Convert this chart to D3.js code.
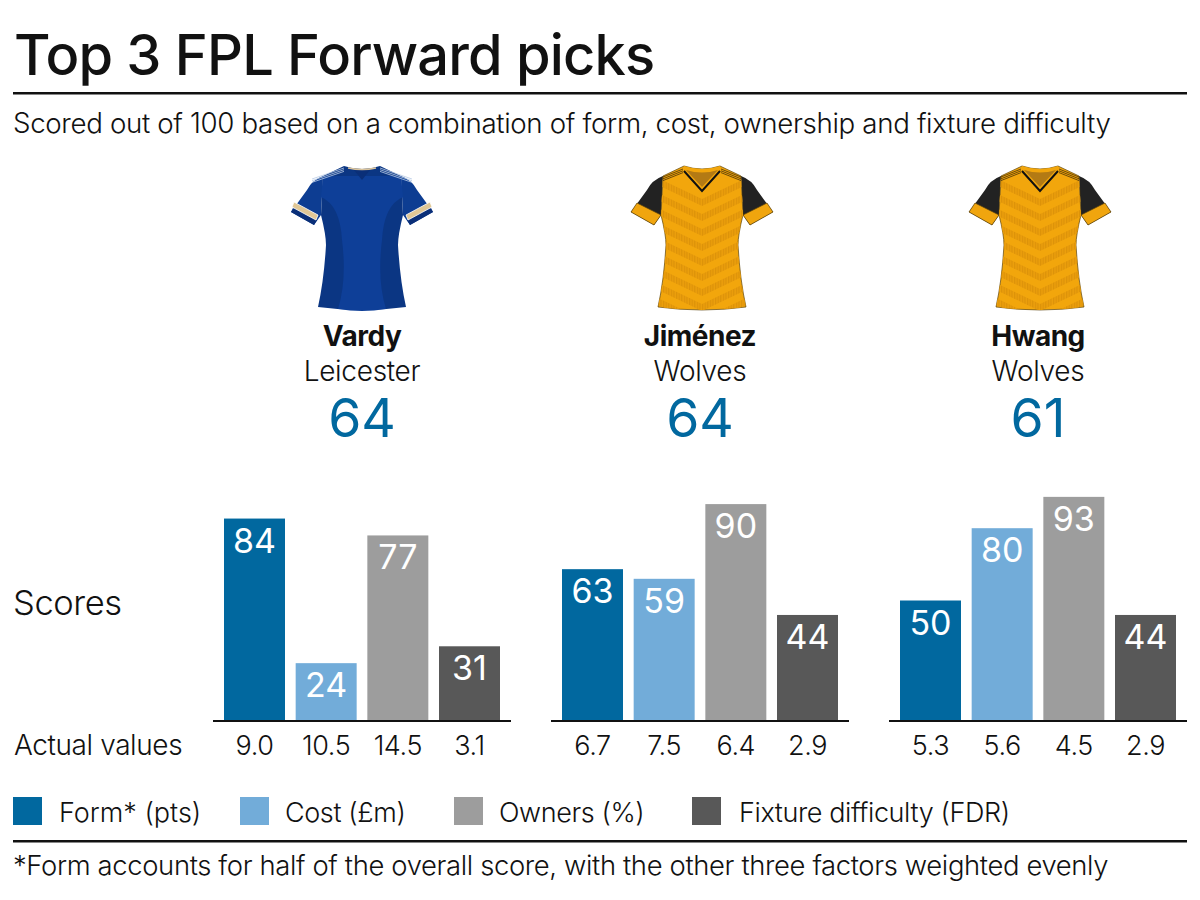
<!DOCTYPE html>
<html>
<head>
<meta charset="utf-8">
<script src="https://cdn.jsdelivr.net/npm/d3@7"></script>
<style>
  html, body { margin: 0; padding: 0; background: #fff; }
  text { font-family: Inter, "Liberation Sans", sans-serif; font-weight: 300; fill: #111; }
</style>
</head>
<body>
<div id="chart"></div>
<script>
const width = 1200, height = 900;

const colors = { form: '#01689f', cost: '#72acd9', owners: '#9d9d9d', fixture: '#585858' };
const factors = ['form', 'cost', 'owners', 'fixture'];

const players = [
  { name: 'Vardy', club: 'Leicester', total: 64, kit: 'leicester', cx: 362, kitX: 362, left: 224,
    scores: { form: 84, cost: 24, owners: 77, fixture: 31 },
    actual: { form: '9.0', cost: '10.5', owners: '14.5', fixture: '3.1' } },
  { name: 'Jiménez', club: 'Wolves', total: 64, kit: 'wolves', cx: 700, kitX: 702, left: 562,
    scores: { form: 63, cost: 59, owners: 90, fixture: 44 },
    actual: { form: '6.7', cost: '7.5', owners: '6.4', fixture: '2.9' } },
  { name: 'Hwang', club: 'Wolves', total: 61, kit: 'wolves', cx: 1038, kitX: 1040, left: 900,
    scores: { form: 50, cost: 80, owners: 93, fixture: 44 },
    actual: { form: '5.3', cost: '5.6', owners: '4.5', fixture: '2.9' } }
];

const legend = [
  { key: 'form', label: 'Form* (pts)', x: 13, tx: 59, spacing: 0 },
  { key: 'cost', label: 'Cost (£m)', x: 240, tx: 285, spacing: -0.4 },
  { key: 'owners', label: 'Owners (%)', x: 454, tx: 499, spacing: -0.4 },
  { key: 'fixture', label: 'Fixture difficulty (FDR)', x: 692, tx: 739, spacing: -0.4 }
];

const svg = d3.select('#chart').append('svg')
  .attr('width', width).attr('height', height)
  .style('display', 'block');

// Header
svg.append('text').attr('x', 14).attr('y', 75)
  .style('font-size', '56px').style('font-weight', 500).style('letter-spacing', '-0.8px')
  .text('Top 3 FPL Forward picks');
svg.append('rect').attr('x', 13).attr('y', 92).attr('width', 1174).attr('height', 2.5).attr('fill', '#111');
svg.append('text').attr('x', 13).attr('y', 133).style('font-size', '27.7px').style('letter-spacing', '-0.35px')
  .text('Scored out of 100 based on a combination of form, cost, ownership and fixture difficulty');

// Shirt outlines, relative to the shirt centre and y=155
const bodyPath = 'M-18,11 Q0,17 18,11 L39,21 L41,60 Q36,80 36,90 Q38,125 44,152 Q0,158 -44,152 Q-38,125 -36,90 Q-36,80 -41,60 L-39,21 Z';
const sleeveL = 'M-39,21 Q-50,25 -55,35 L-71,57 L-48,70 L-41,60 Z';
const sleeveR = 'M39,21 Q50,25 55,35 L71,57 L48,70 L41,60 Z';

const defs = svg.append('defs');
defs.append('clipPath').attr('id', 'shirt-body').append('path').attr('d', bodyPath);
const hatch = defs.append('pattern').attr('id', 'hatch').attr('patternUnits', 'userSpaceOnUse')
  .attr('width', 2.6).attr('height', 4);
hatch.append('rect').attr('width', 2.6).attr('height', 4).attr('fill', '#ec9f0c');
hatch.append('rect').attr('width', 1.2).attr('height', 4).attr('fill', '#dc9209');

function drawLeicester(g) {
  g.append('path').attr('d', sleeveL).attr('fill', '#0d3d92');
  g.append('path').attr('d', sleeveR).attr('fill', '#0d3d92');
  g.append('path').attr('d', bodyPath).attr('fill', '#0b3683');
  g.append('path').attr('d', 'M-39,21 L39,21 L41,42 Q22,50 20,85 Q15,125 24,154 Q0,158 -24,154 Q-15,125 -20,85 Q-22,50 -41,42 Z').attr('fill', '#0e3f98');
  g.append('path').attr('d', 'M-8,15 L0,25 L8,15 Z').attr('fill', '#0a2f78');
  g.append('path').attr('d', 'M-14,13 Q0,16 14,13').attr('fill', 'none').attr('stroke', '#d9c39c').attr('stroke-width', 1.5);
  [-1, 1].forEach(s => {
    d3.range(3).forEach(i => {
      g.append('path')
        .attr('d', `M${s * 18},${13 + i * 1.7} L${s * 50},${24 + i * 1.7}`)
        .attr('stroke', '#b9cbe6').attr('stroke-width', 0.8).attr('fill', 'none');
    });
  });
  g.append('path').attr('d', 'M-69,53 L-71,57 L-48,70 L-45,65 Z').attr('fill', '#0a2f78');
  g.append('path').attr('d', 'M69,53 L71,57 L48,70 L45,65 Z').attr('fill', '#0a2f78');
  g.append('path').attr('d', 'M-68,47 L-70,52 L-46,65 L-44,60 Z').attr('fill', '#e0c796').attr('stroke', '#fff').attr('stroke-width', 0.8);
  g.append('path').attr('d', 'M68,47 L70,52 L46,65 L44,60 Z').attr('fill', '#e0c796').attr('stroke', '#fff').attr('stroke-width', 0.8);
}

function drawWolves(g) {
  g.append('path').attr('d', sleeveL).attr('fill', '#222');
  g.append('path').attr('d', sleeveR).attr('fill', '#222');
  g.append('path').attr('d', 'M-65,48 L-71,57 L-48,70 L-41,60 Z').attr('fill', '#f0a50e').attr('stroke', '#5c4208').attr('stroke-width', 0.7);
  g.append('path').attr('d', 'M65,48 L71,57 L48,70 L41,60 Z').attr('fill', '#f0a50e').attr('stroke', '#5c4208').attr('stroke-width', 0.7);
  g.append('path').attr('d', bodyPath).attr('fill', '#f2a60c').attr('stroke', '#5c4208').attr('stroke-width', 0.7);
  const pattern = g.append('g').attr('clip-path', 'url(#shirt-body)');
  d3.range(9).forEach(i => {
    const y = 22 + i * 15;
    pattern.append('path')
      .attr('d', `M-46,${y} L0,${y + 22} L46,${y} L46,${y + 7} L0,${y + 29} L-46,${y + 7} Z`)
      .attr('fill', 'url(#hatch)');
  });
  g.append('path').attr('d', 'M-18,11 Q0,17 18,11 L19,15 L0,37 L-19,15 Z').attr('fill', '#f2a60c');
  g.append('path').attr('d', 'M-16,15 Q0,20 16,15 L0,32 Z').attr('fill', '#b37a14');
  g.append('path').attr('d', 'M-18,16 L0,36 L18,16').attr('fill', 'none').attr('stroke', '#111').attr('stroke-width', 2);
  [-1, 1].forEach(s => {
    d3.range(3).forEach(i => {
      g.append('path')
        .attr('d', `M${s * 19},${14 + i * 1.8} L${s * 39},${22 + i * 1.8}`)
        .attr('stroke', '#4a3208').attr('stroke-width', 0.8).attr('fill', 'none');
    });
  });
}

// Bar scales, shared by all three panels
const barWidth = 276;
const y = d3.scaleLinear().domain([0, 100]).range([721, 480]);
const x = d3.scaleBand().domain(factors).range([0, barWidth]).paddingInner(0.149).paddingOuter(0);

const panels = svg.selectAll('g.panel').data(players).join('g').attr('class', 'panel');

panels.each(function (p) {
  const g = d3.select(this);
  const shirt = g.append('g').attr('transform', `translate(${p.kitX},155)`);
  if (p.kit === 'leicester') drawLeicester(shirt); else drawWolves(shirt);

  g.append('text').attr('x', p.cx).attr('y', 346).attr('text-anchor', 'middle')
    .style('font-size', '28px').style('font-weight', 700).style('letter-spacing', '-0.5px').text(p.name);
  g.append('text').attr('x', p.cx).attr('y', 381).attr('text-anchor', 'middle')
    .style('font-size', '28px').style('letter-spacing', '-0.3px').text(p.club);
  g.append('text').attr('x', p.cx).attr('y', 437).attr('text-anchor', 'middle')
    .style('font-size', '53.5px').style('font-weight', 400).style('fill', colors.form).text(p.total);

  const bars = g.append('g').attr('transform', `translate(${p.left},0)`);
  bars.selectAll('rect').data(factors).join('rect')
    .attr('x', d => x(d)).attr('width', x.bandwidth())
    .attr('y', d => y(p.scores[d])).attr('height', d => y(0) - y(p.scores[d]))
    .attr('fill', d => colors[d]);
  bars.selectAll('text.score').data(factors).join('text').attr('class', 'score')
    .attr('x', d => x(d) + x.bandwidth() / 2).attr('y', d => y(p.scores[d]) + 34)
    .attr('text-anchor', 'middle')
    .style('font-size', '34px').style('font-weight', 400).style('fill', '#fff').text(d => p.scores[d]);
  bars.append('rect').attr('x', -11).attr('y', 720).attr('width', 298).attr('height', 2).attr('fill', '#111');
  bars.selectAll('text.actual').data(factors).join('text').attr('class', 'actual')
    .attr('x', d => x(d) + x.bandwidth() / 2).attr('y', 755)
    .attr('text-anchor', 'middle')
    .style('font-size', '27px').style('letter-spacing', '-0.4px').text(d => p.actual[d]);
});

svg.append('text').attr('x', 13).attr('y', 615).style('font-size', '34.5px').style('letter-spacing', '-0.4px').text('Scores');
svg.append('text').attr('x', 14).attr('y', 755).style('font-size', '28px').style('letter-spacing', '-0.4px').text('Actual values');

// Legend
const items = svg.selectAll('g.legend').data(legend).join('g').attr('class', 'legend');
items.append('rect').attr('x', d => d.x).attr('y', 797).attr('width', 29).attr('height', 28).attr('fill', d => colors[d.key]);
items.append('text').attr('x', d => d.tx).attr('y', 822)
  .style('font-size', '27px').style('letter-spacing', d => d.spacing + 'px').text(d => d.label);

// Footer
svg.append('rect').attr('x', 13).attr('y', 840).attr('width', 1174).attr('height', 2.5).attr('fill', '#111');
svg.append('text').attr('x', 13).attr('y', 875).style('font-size', '27.4px').style('letter-spacing', '-0.35px')
  .text('*Form accounts for half of the overall score, with the other three factors weighted evenly');
</script>
</body>
</html>
